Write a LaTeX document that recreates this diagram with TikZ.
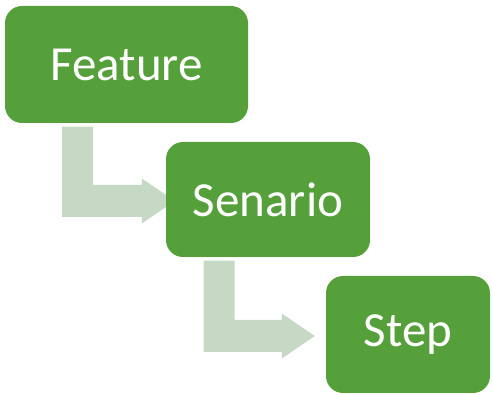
\documentclass[tikz,border=0pt]{standalone}
\usepackage{fontspec}
\setmainfont{Carlito}
\usetikzlibrary{calc,backgrounds}

\definecolor{boxgreen}{RGB}{85,160,58}
\definecolor{arrowgreen}{RGB}{197,217,196}

\newcommand{\bentarrow}[3]{%
  \fill[arrowgreen] let \p1=($(#1.south)+(-64.5,3.5)$), \p2=($(#2.west)+(#3,1.5)$) in
    (\x1,\y1) -- (\x1+31pt,\y1) -- (\x1+31pt,\y2+16pt) -- (\x2-33pt,\y2+16pt)
    -- (\x2-33pt,\y2+22.5pt) -- (\x2,\y2) -- (\x2-33pt,\y2-22.5pt)
    -- (\x2-33pt,\y2-16pt) -- (\x1,\y2-16pt) -- cycle;}

\begin{document}
\begin{tikzpicture}[x=1pt,y=-1pt]
				\tikzstyle{every node}=[fill=boxgreen,rounded corners=17pt,text=white,
				inner sep=0pt,font=\fontsize{49}{58}\selectfont]
				\useasboundingbox (0,0) rectangle (493,395);
				\node[minimum width=243pt,minimum height=117pt] (feature) at (126.5,64.5) {Feature};
				\node[minimum width=204pt,minimum height=115pt] (senario) at (268,199.5) {Senario};
				\node[minimum width=164pt,minimum height=117pt] (stepbox) at (408,334.5) {Step};
				\begin{scope}[on background layer]
					\bentarrow{feature}{senario}{9}
					\bentarrow{senario}{stepbox}{-11}
				\end{scope}
\end{tikzpicture}
\end{document}
